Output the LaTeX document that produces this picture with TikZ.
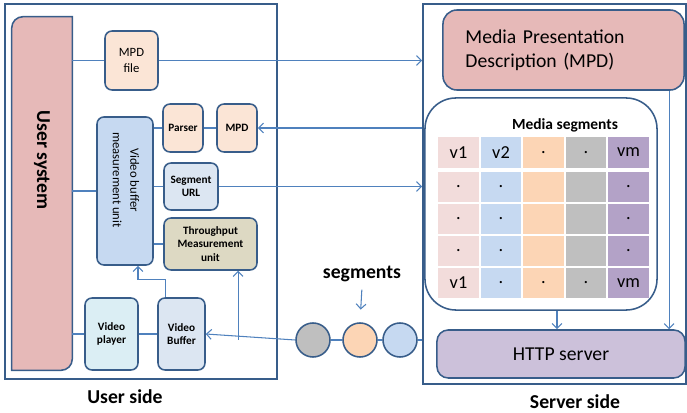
\documentclass[tikz,border=0pt]{standalone}
\usepackage{fontspec}
\setmainfont{Carlito}
\usetikzlibrary{arrows.meta}

\definecolor{boxline}{RGB}{56,93,138}
\definecolor{linkblue}{RGB}{79,129,189}
\definecolor{rosefill}{RGB}{230,185,184}
\definecolor{peachfill}{RGB}{251,229,214}
\definecolor{bluefill}{RGB}{198,217,241}
\definecolor{greyblue}{RGB}{220,230,242}
\definecolor{paleblue}{RGB}{219,238,244}
\definecolor{tanfill}{RGB}{221,217,195}
\definecolor{lilacfill}{RGB}{204,193,218}
\definecolor{colA}{RGB}{242,220,219}
\definecolor{colB}{RGB}{198,217,241}
\definecolor{colC}{RGB}{252,213,181}
\definecolor{colD}{RGB}{191,191,191}
\definecolor{colE}{RGB}{179,162,199}

\newcommand{\nodot}{}

\begin{document}
\begin{tikzpicture}[x=0.025cm, y=-0.025cm]
        \tikzstyle{frame} = [rectangle, draw=boxline, line width=1.1pt, inner sep=0]
        \tikzstyle{box} = [rectangle, draw=boxline, line width=1.1pt, rounded corners=5pt, align=center, inner sep=1pt, font=\fontsize{8}{9.5}\selectfont\bfseries]
        \tikzstyle{cell} = [rectangle, minimum width=1.0125cm, minimum height=0.75cm, inner sep=0, font=\fontsize{13}{15}\selectfont]
        \tikzstyle{seg} = [circle, draw=boxline, line width=1.1pt, minimum size=0.85cm, inner sep=0]
        \tikzstyle{link} = [draw=linkblue, line width=0.75pt]
        \tikzstyle{arr} = [link, -{Straight Barb[length=3.5pt,width=7pt]}]
        \tikzstyle{caption} = [font=\fontsize{14}{16}\selectfont\bfseries]

        \useasboundingbox (0,0) rectangle (687,413);

        % user side
        \node [frame, minimum width=6.8cm, minimum height=9.375cm] (userside) at (141,191.5) {};
        \node [caption] (userlbl) at (125,397) {User side};
        \node [minimum width=1.5cm, minimum height=8.825cm, inner sep=0] (usersys) at (42,193.5) {};
        \draw [draw=boxline, fill=rosefill, line width=1.1pt] (usersys.south west) [rounded corners=8pt] -- (usersys.north west) [sharp corners] -- (usersys.north east) [rounded corners=8pt] -- (usersys.south east) [sharp corners] -- (usersys.south west) -- cycle;
        \node [caption, rotate=-90] (usertitle) at (42,160) {User system};

        \node [box, fill=peachfill, minimum width=1.325cm, minimum height=1.475cm, font=\fontsize{9}{11}\selectfont] (mpdfile) at (131.5,60.5) {MPD\\file};
        \node [box, fill=bluefill, minimum width=1.4cm, minimum height=3.7cm] (vbmu) at (125,191) {};
        \node [rotate=-90, align=center, font=\fontsize{9}{12.5}\selectfont] (vbmutext) at (126,180) {Video buffer\\measurement unit};
        \node [box, fill=peachfill, minimum width=1.0cm, minimum height=1.2cm] (parser) at (183,128) {Parser};
        \node [box, fill=peachfill, minimum width=1.0cm, minimum height=1.2cm] (mpd) at (237,128) {MPD};
        \node [box, fill=greyblue, minimum width=1.35cm, minimum height=1.175cm] (segurl) at (191,186.5) {Segment\\URL};
        \node [box, fill=tanfill, minimum width=2.325cm, minimum height=1.3cm] (tmu) at (210.5,244) {Throughput\\Measurement\\unit};
        \node [box, fill=paleblue, minimum width=1.325cm, minimum height=1.8cm] (vplayer) at (111.5,334) {Video\\player};
        \node [box, fill=greyblue, minimum width=1.175cm, minimum height=1.8cm] (vbuffer) at (181.5,334) {Video\\Buffer};

        % server side
        \node [frame, minimum width=6.575cm, minimum height=9.5cm] (serverside) at (554.5,194) {};
        \node [caption] (serverlbl) at (575,402) {Server side};
        \node [box, fill=rosefill, rounded corners=10pt, minimum width=6.025cm, minimum height=2.0cm, text width=4.9cm, align=left, font=\fontsize{14}{17}\selectfont] (mpdbig) at (563.5,50) {Media Presentation\\Description (MPD)};
        \node [box, fill=white, rounded corners=22pt, minimum width=5.8cm, minimum height=5.3cm] (mseg) at (541,204) {};
        \node [font=\fontsize{11}{13}\selectfont\bfseries] (mseglbl) at (565,125) {Media segments};
        \foreach \r/\y/\ta/\tb/\tc/\td/\te in {1/152.5/v1/v2/././vm, 2/187/././\nodot/\nodot/., 3/219/././\nodot/\nodot/., 4/251/././\nodot/\nodot/., 5/283/v1/./././vm}
            \foreach \c/\x/\t/\col in {1/458.5/\ta/colA, 2/501/\tb/colB, 3/543.5/\tc/colC, 4/586/\td/colD, 5/628.5/\te/colE}
                \node [cell, fill=\col] (cell-\r-\c) at (\x,\y) {\t};
        \node [box, fill=lilacfill, rounded corners=8pt, minimum width=6.2cm, minimum height=1.2cm, font=\fontsize{14}{17}\selectfont] (http) at (561,354) {HTTP server};

        % segments in transit
        \node [seg, fill=colD] (sgrey) at (313,340) {};
        \node [seg, fill=colC] (sorange) at (360,340) {};
        \node [seg, fill=colB] (sblue) at (400,340) {};
        \node [caption] (seglbl) at (362,274) {segments};
        \coordinate (tap) at ([xshift=0.69cm]tmu.south |- sgrey.west);

        % connectors
        \draw [link] (usersys.east |- mpdfile.west) -- (mpdfile.west);
        \draw [arr] (mpdfile.east) -- (mpdfile.east -| serverside.west);
        \draw [arr] (serverside.west |- mpd.east) -- (mpd.east);
        \draw [link] (vbmu.east |- parser.west) -- (parser.west);
        \draw [link] (parser) -- (mpd);
        \draw [link] (usersys.east |- vbmu.west) -- (vbmu.west);
        \draw [link] (vbmu.east |- segurl.west) -- (segurl.west);
        \draw [arr] (segurl.east) -- (segurl.east -| serverside.west);
        \draw [link] (vbmu.east |- tmu.west) -- (tmu.west);
        \draw [link] (usersys.east |- vplayer.west) -- (vplayer.west);
        \draw [link] (vplayer) -- (vbuffer);
        \draw [arr] ([xshift=-0.4cm]vbuffer.north) -- ++(0,0.45cm) -| ([xshift=0.325cm]vbmu.south);
        \draw [arr] (sgrey.west) -- (vbuffer.east);
        \draw [arr] (tap) -- (tap |- tmu.south);
        \draw [link] (sgrey) -- (sorange) -- (sblue);
        \draw [link] (sblue.east) -- (sblue.east -| serverside.west);
        \draw [arr, shorten <=2pt, shorten >=9pt] (seglbl.south) -- (sorange.north);
        \draw [arr] ([xshift=2.64cm]mpdbig.south) -- ([xshift=2.64cm]mpdbig.south |- http.north);
        \draw [arr] ([xshift=0.4cm]mseg.south) -- ([xshift=0.4cm]mseg.south |- http.north);
    \end{tikzpicture}
\end{document}
